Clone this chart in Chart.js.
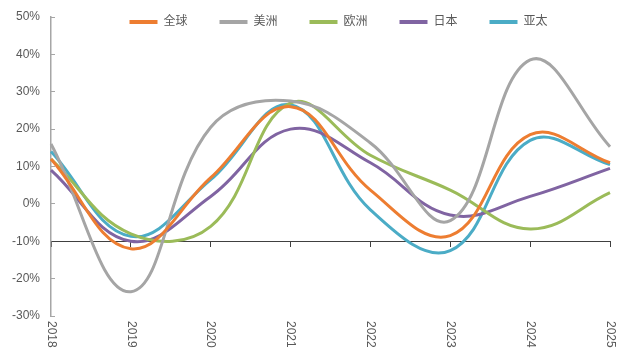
<!DOCTYPE html>
<html>
<head>
<meta charset="utf-8">
<script src="https://cdn.jsdelivr.net/npm/chart.js@4.4.1/dist/chart.umd.min.js"></script>
<style>
  html, body { margin: 0; padding: 0; background: #fff; }
  #wrap { width: 626px; height: 349px; }
</style>
</head>
<body>
<div id="wrap"><canvas id="growthChart" width="626" height="349"></canvas></div>
<script>
// yearly growth, one point per year
const years = ['2018', '2019', '2020', '2021', '2022', '2023', '2024', '2025'];

const seriesNames = ['全球', '美洲', '欧洲', '日本', '亚太'];
const globalVals = [12, -12, 7, 26, 3.7, -8.5, 18.5, 11];
const americasVals = [16, -23.5, 20.5, 27.5, 16.3, -4.5, 38.5, 15.3];
const europeVals = [12, -8, -6, 27, 13, 3.7, -6.7, 3];
const japanVals = [9, -10, 2, 20, 11, -3, 2, 9.5];
const apacVals = [14, -8.7, 6.5, 26.5, -1.6, -12.5, 17, 10.5];

const lineColors = ['#ED7D31', '#A5A5A5', '#9BBB59', '#8064A2', '#4BACC6'];

const yMin = -30;
const yMax = 50;
const yStep = 10;
const xAxisCross = -10;

const FONT = '"Liberation Sans", "Noto Sans CJK SC", Arial, sans-serif';
const TEXT = '#595959';

// year labels sit below the plot, turned clockwise
const yearAxisLabels = {
  id: 'yearAxisLabels',
  afterDraw(chart) {
    const { ctx, chartArea, scales } = chart;
    ctx.save();
    ctx.font = '12px ' + FONT;
    ctx.fillStyle = TEXT;
    ctx.textAlign = 'left';
    ctx.textBaseline = 'middle';
    years.forEach((yr, i) => {
      ctx.save();
      ctx.translate(scales.x.getPixelForValue(i), chartArea.bottom + 5);
      ctx.rotate(Math.PI / 2);
      ctx.fillText(yr, 0, 0);
      ctx.restore();
    });
    ctx.restore();
  }
};

// legend floats inside the top of the plot area
const legendInside = {
  id: 'legendInside',
  beforeDraw(chart) {
    const lg = chart.legend;
    const pad = lg.options.labels.padding;
    lg.top = 22 - 6 - pad;
    lg.bottom = lg.top + pad + 20;
    lg.left = 51;
    lg.right = 626;
  }
};

const makeSet = (label, data, color) => ({
  label,
  data,
  borderColor: color,
  backgroundColor: color,
  borderWidth: 3,
  pointRadius: 0,
  pointHoverRadius: 0,
  tension: 0.4,
  fill: false
});

new Chart(document.getElementById('growthChart'), {
  type: 'line',
  data: {
    labels: years,
    datasets: [
      makeSet(seriesNames[0], globalVals, lineColors[0]),
      makeSet(seriesNames[1], americasVals, lineColors[1]),
      makeSet(seriesNames[2], europeVals, lineColors[2]),
      makeSet(seriesNames[3], japanVals, lineColors[3]),
      makeSet(seriesNames[4], apacVals, lineColors[4])
    ]
  },
  options: {
    responsive: false,
    animation: false,
    devicePixelRatio: 1,
    layout: { padding: { left: 11, right: 16, top: 16, bottom: 33 } },
    plugins: {
      tooltip: { enabled: false },
      legend: {
        position: 'top',
        fullSize: false,
        maxHeight: 1,
        labels: {
          usePointStyle: true,
          pointStyle: 'line',
          pointStyleWidth: 28,
          padding: 32,
          color: TEXT,
          font: { size: 12, family: FONT },
          generateLabels(chart) {
            return Chart.defaults.plugins.legend.labels.generateLabels(chart)
              .map(item => ({ ...item, lineWidth: 4 }));
          }
        }
      }
    },
    scales: {
      x: {
        type: 'category',
        position: { y: xAxisCross },
        ticks: { display: false },
        grid: {
          drawOnChartArea: false,
          drawTicks: true,
          tickLength: 5,
          tickColor: '#404040'
        },
        border: { display: true, color: '#404040', width: 1 }
      },
      y: {
        min: yMin,
        max: yMax,
        afterFit(scale) {
          scale.width = 40;
          // the label gap should not push the plot down
          scale.paddingTop = 7;
          scale.paddingBottom = 7;
        },
        ticks: {
          stepSize: yStep,
          padding: 15,
          color: TEXT,
          font: { size: 12, family: FONT },
          callback: v => v + '%'
        },
        grid: {
          drawOnChartArea: false,
          drawTicks: true,
          tickLength: -4,
          tickColor: '#A6A6A6'
        },
        border: { display: true, color: '#A6A6A6', width: 1.5 }
      }
    }
  },
  plugins: [yearAxisLabels, legendInside]
});
</script>
</body>
</html>
